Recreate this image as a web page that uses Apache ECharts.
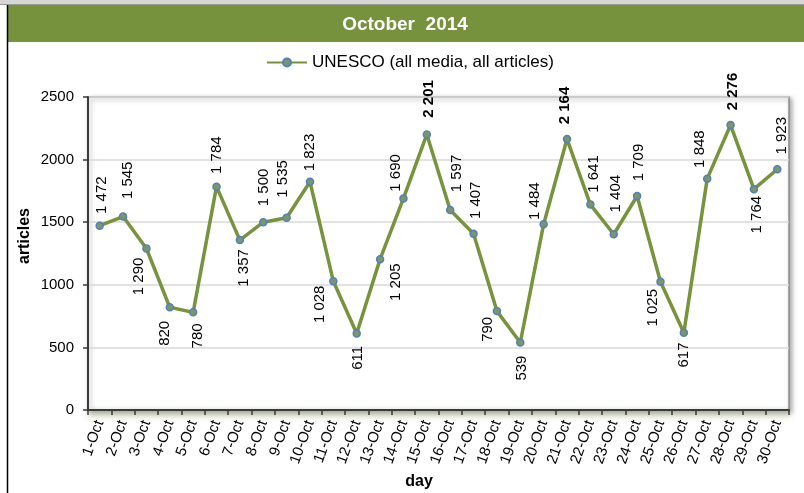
<!DOCTYPE html>
<html>
<head>
<meta charset="utf-8">
<script src="https://cdn.jsdelivr.net/npm/echarts@6/dist/echarts.min.js"></script>
<style>
html,body{margin:0;padding:0;background:#fff;}
#chart{width:804px;height:493px;}
</style>
</head>
<body>
<div id="chart"></div>
<script>
// ---- data ----
const categories = ['1-Oct','2-Oct','3-Oct','4-Oct','5-Oct','6-Oct','7-Oct','8-Oct','9-Oct','10-Oct',
  '11-Oct','12-Oct','13-Oct','14-Oct','15-Oct','16-Oct','17-Oct','18-Oct','19-Oct','20-Oct',
  '21-Oct','22-Oct','23-Oct','24-Oct','25-Oct','26-Oct','27-Oct','28-Oct','29-Oct','30-Oct'];
const articles = [1472,1545,1290,820,780,1784,1357,1500,1535,1823,
  1028,611,1205,1690,2201,1597,1407,790,539,1484,
  2164,1641,1404,1709,1025,617,1848,2276,1764,1923];
const seriesName = 'UNESCO (all media, all articles)';
const chartTitle = 'October  2014';
const yMin = 0, yMax = 2500, yStep = 500;
const xTitle = 'day';
const yTitle = 'articles';

// ---- label placement (style) ----
const labelBelow = [2,3,4,6,10,11,12,17,18,24,25,28];
const labelBold = [14,20,27];
const labelGap = [11,16.7,8.4,12.7,10.3,12,8.3,15.3,19.4,9.7,
  1.6,11.7,1,6,16,17,14,5,12.3,2.3,
  14,11,21,14,6.6,9,10,14,6,14];
const labelDx = [2,5,-7.5,-5,5,0,4,1,-4,0,
  -13,1,15.7,-8,2,7,2,-9,2,-9,
  -2,3,2,2,-8,0,-7,2,3,5];

function fmt(v){
  if (v >= 1000) return Math.floor(v/1000) + ' ' + String(v % 1000).padStart(3,'0');
  return String(v);
}

const seriesData = articles.map((v,i) => {
  const below = labelBelow.indexOf(i) >= 0;
  return {
    value: v,
    label: {
      position: below ? 'bottom' : 'top',
      distance: Math.max(0, labelGap[i] - 3.5),
      align: below ? 'right' : 'left',
      fontWeight: labelBold.indexOf(i) >= 0 ? 'bold' : 'normal'
    }
  };
});

const FONT = '"Liberation Sans", Arial, sans-serif';
const GREEN = '#77933c';

const chart = echarts.init(document.getElementById('chart'), null, {renderer:'canvas'});
chart.setOption({
  animation: false,
  backgroundColor: '#ffffff',
  textStyle: {fontFamily: FONT},
  graphic: [
    {type:'rect', z:100, shape:{x:0,y:0,width:804,height:5}, style:{fill:'#d6d6d6'}},
    {type:'rect', z:100, shape:{x:0,y:4,width:804,height:1}, style:{fill:'#9a9a9a'}},
    {type:'rect', z:100, shape:{x:8,y:5,width:796,height:37}, style:{fill:'#76923c'}},
    {type:'line', z:100, shape:{x1:7.5,y1:5,x2:7.5,y2:493}, style:{stroke:'#000',lineWidth:1.5}},
    {type:'text', z:101, x:405, y:25, style:{text:chartTitle, fill:'#fff', font:'bold 19px ' + FONT, textAlign:'center', textVerticalAlign:'middle'}},
    {type:'text', z:101, x:25, y:236, rotation:Math.PI/2, style:{text:yTitle, fill:'#000', font:'bold 16px ' + FONT, textAlign:'center', textVerticalAlign:'middle'}},
    {type:'text', z:101, x:419, y:482, style:{text:xTitle, fill:'#000', font:'bold 16px ' + FONT, textAlign:'center', textVerticalAlign:'middle'}}
  ],
  legend: {
    left: 266, top: 54, padding: 0,
    itemWidth: 40, itemHeight: 10, itemGap: 10,
    textStyle: {fontSize: 17, color:'#000', fontFamily: FONT},
    data: [seriesName]
  },
  grid: {
    left: 88, right: 15, top: 97, bottom: 83,
    show: true, backgroundColor:'#fff',
    borderColor: '#8a8a8a', borderWidth: 1.5,
    shadowColor: 'rgba(0,0,0,0.35)', shadowBlur: 5, shadowOffsetX: 2, shadowOffsetY: 2
  },
  xAxis: {
    type: 'category',
    data: categories,
    boundaryGap: true,
    axisLine: {show:true, lineStyle:{color:'#3a3a3a', width:2, shadowColor:'rgba(118,146,60,0.8)', shadowBlur:7, shadowOffsetY:4}},
    axisTick: {show:true, inside:false, length:5, lineStyle:{color:'#3a3a3a', width:1.5}},
    axisLabel: {interval:0, rotate:70, fontSize:15, color:'#000', margin:11, fontFamily: FONT},
    splitLine: {show:false}
  },
  yAxis: {
    type: 'value',
    min: yMin, max: yMax, interval: yStep,
    axisLine: {show:true, lineStyle:{color:'#3a3a3a', width:2}},
    axisTick: {show:true, inside:false, length:5, lineStyle:{color:'#3a3a3a', width:1.5}},
    axisLabel: {fontSize:15, color:'#000', margin:14, fontFamily: FONT, formatter: v => String(v)},
    splitLine: {show:true, lineStyle:{color:'#d9d9d9', width:1.5}}
  },
  series: [{
    name: seriesName,
    type: 'line',
    data: seriesData,
    symbol: 'circle',
    symbolSize: 7,
    lineStyle: {color: GREEN, width: 3.5},
    itemStyle: {color: '#7d9567', borderColor: '#4f81bd', borderWidth: 1.5},
    emphasis: {disabled: true},
    label: {
      show: true,
      rotate: 90,
      verticalAlign: 'middle',
      fontSize: 15,
      color: '#000',
      fontFamily: FONT,
      formatter: p => fmt(p.value)
    },
    labelLayout: p => ({dy: labelDx[p.dataIndex], hideOverlap: false}),
    z: 3
  }]
});
</script>
</body>
</html>
